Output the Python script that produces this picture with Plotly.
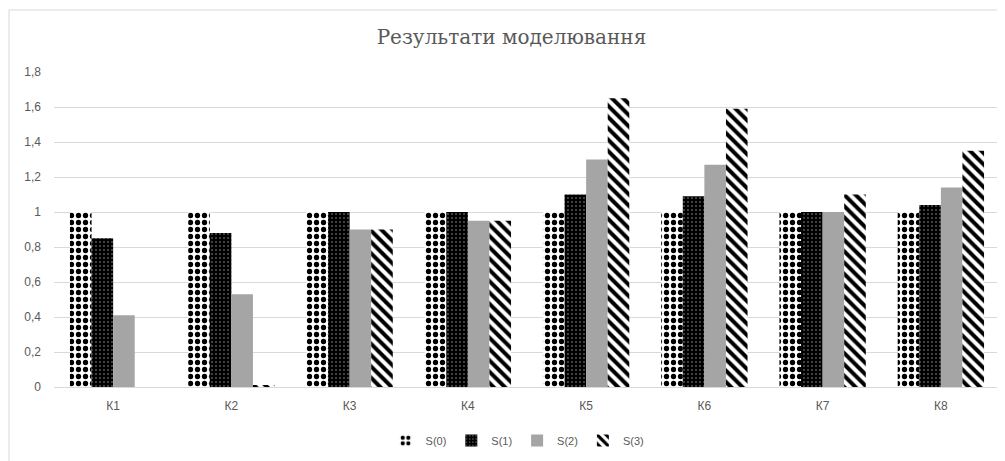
import plotly.graph_objects as go

categories = ["К1", "К2", "К3", "К4", "К5", "К6", "К7", "К8"]
series_names = ["S(0)", "S(1)", "S(2)", "S(3)"]
s0 = [1.0, 1.0, 1.0, 1.0, 1.0, 1.0, 1.0, 1.0]
s1 = [0.85, 0.88, 1.0, 1.0, 1.10, 1.09, 1.0, 1.04]
s2 = [0.41, 0.53, 0.90, 0.95, 1.30, 1.27, 1.0, 1.14]
s3 = [0.0, 0.01, 0.90, 0.95, 1.65, 1.59, 1.10, 1.35]
y_ticks = [0, 0.2, 0.4, 0.6, 0.8, 1.0, 1.2, 1.4, 1.6, 1.8]
y_tick_text = ["0", "0,2", "0,4", "0,6", "0,8", "1", "1,2", "1,4", "1,6", "1,8"]
title_text = "Результати моделювання"

styles = [
    dict(color="white", line=dict(width=0),
         pattern=dict(shape=".", fgcolor="black", bgcolor="white", fgopacity=1,
                      size=7, solidity=0.45)),
    dict(color="black", line=dict(width=0),
         pattern=dict(shape=".", fgcolor="#999999", bgcolor="black", fgopacity=1,
                      size=4, solidity=0.12)),
    dict(color="#A5A5A5", line=dict(width=0)),
    dict(color="white", line=dict(width=0),
         pattern=dict(shape="\\", fgcolor="black", bgcolor="white", fgopacity=1,
                      size=8, solidity=0.5)),
]

fig = go.Figure()
for name, vals, st in zip(series_names, [s0, s1, s2, s3], styles):
    fig.add_trace(go.Bar(x=categories, y=vals, name=name, marker=st))

fig.update_layout(
    width=997, height=453,
    margin=dict(l=46, r=5, t=64, b=74),
    paper_bgcolor="white", plot_bgcolor="white",
    barmode="group", bargap=0.27, bargroupgap=0,
    font=dict(family="Liberation Sans, Arial, sans-serif", size=12, color="#595959"),
    title=dict(text=title_text, x=0.505, xanchor="center", y=0.935, yanchor="middle",
               font=dict(family="DejaVu Serif, Liberation Serif, serif", size=20, color="#595959")),
    showlegend=True,
    legend=dict(orientation="h", x=0.49, xanchor="center", y=-0.17, yanchor="middle",
                font=dict(size=11, color="#595959"), itemwidth=30, traceorder="normal"),
    shapes=[dict(type="rect", xref="paper", yref="paper", x0=-0.0476, x1=1.2, y0=-0.4, y1=1.197,
                 line=dict(color="#D9D9D9", width=1), fillcolor="rgba(0,0,0,0)", layer="below")],
)
fig.update_yaxes(range=[0, 1.8], tickvals=y_ticks, ticktext=y_tick_text,
                 showgrid=True, gridcolor="#D9D9D9", gridwidth=1, zeroline=False,
                 showline=False, ticks="", ticklabelstandoff=12, fixedrange=True)
fig.update_xaxes(showline=True, linecolor="#D9D9D9", linewidth=1, ticks="", showgrid=False,
                 ticklabelstandoff=8, fixedrange=True)

fig.write_html("out.html")
